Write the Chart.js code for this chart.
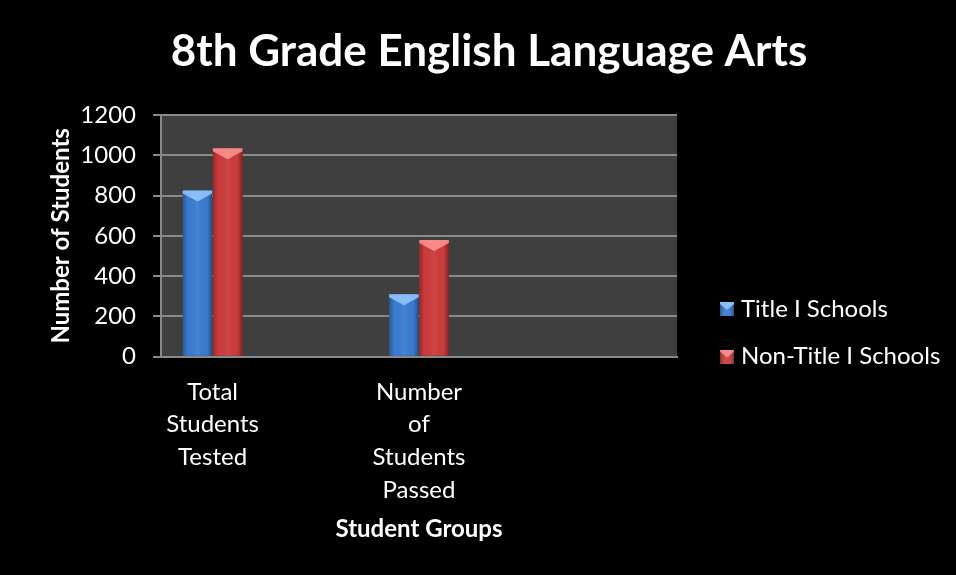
<!DOCTYPE html>
<html>
<head>
<meta charset="utf-8">
<script src="https://cdn.jsdelivr.net/npm/chart.js@4.4.1/dist/chart.umd.min.js"></script>
<style>
  html, body { margin: 0; padding: 0; background: #000; }
  #wrap { width: 956px; height: 575px; }
</style>
</head>
<body>
<div id="wrap"><canvas id="chart" width="956" height="575"></canvas></div>
<script>
// Chart content
const chartTitle = '8th Grade English Language Arts';
const xAxisTitle = 'Student Groups';
const yAxisTitle = 'Number of Students';
const categories = [['Total', 'Students', 'Tested'], '', ['Number', 'of', 'Students', 'Passed'], '', ''];
const seriesNames = ['Title I Schools', 'Non-Title I Schools'];
const titleISchools = [825, null, 310, null, null];
const nonTitleISchools = [1035, null, 580, null, null];
const yTickValues = [0, 200, 400, 600, 800, 1000, 1200];

const FONT = 'Lato, "Open Sans", sans-serif';
const seriesColors = ['#3a7bd0', '#cc3b3b'];
const bevelColors = ['rgba(150,200,255,0.85)', 'rgba(255,150,150,0.85)'];

// small bevelled swatch used as the legend marker
function makeSwatch(base, light) {
  const s = 14;
  const c = document.createElement('canvas');
  c.width = s; c.height = s;
  const g = c.getContext('2d');
  g.fillStyle = base;
  g.fillRect(0, 0, s, s);
  const sh = g.createLinearGradient(0, 0, s, 0);
  sh.addColorStop(0, 'rgba(0,0,0,0.3)');
  sh.addColorStop(0.5, 'rgba(255,255,255,0.05)');
  sh.addColorStop(1, 'rgba(0,0,0,0.35)');
  g.fillStyle = sh;
  g.fillRect(0, 0, s, s);
  g.fillStyle = light;
  g.beginPath();
  g.moveTo(0, 0); g.lineTo(s, 0); g.lineTo(s, 2); g.lineTo(s / 2, 8); g.lineTo(0, 2);
  g.closePath();
  g.fill();
  return c;
}
const swatches = seriesColors.map((c, i) => makeSwatch(c, bevelColors[i]));

// grey plotting area behind the grid
const plotBackground = {
  id: 'plotBackground',
  beforeDraw(chart) {
    const { ctx, chartArea: a } = chart;
    ctx.save();
    ctx.fillStyle = '#3f3f3f';
    ctx.fillRect(a.left, a.top, a.right - a.left, a.bottom - a.top);
    ctx.restore();
  }
};

// side shading and angled top bevel on each drawn bar
const barBevel = {
  id: 'barBevel',
  afterDatasetsDraw(chart) {
    const ctx = chart.ctx;
    chart.data.datasets.forEach((ds, di) => {
      const meta = chart.getDatasetMeta(di);
      meta.data.forEach((el, i) => {
        if (ds.data[i] == null) return;
        const { x, y, base, width } = el.getProps(['x', 'y', 'base', 'width'], true);
        const l = x - width / 2, r = x + width / 2;
        ctx.save();
        const g = ctx.createLinearGradient(l, 0, r, 0);
        g.addColorStop(0, 'rgba(0,0,0,0.28)');
        g.addColorStop(0.18, 'rgba(0,0,0,0)');
        g.addColorStop(0.5, 'rgba(255,255,255,0.06)');
        g.addColorStop(0.82, 'rgba(0,0,0,0)');
        g.addColorStop(1, 'rgba(0,0,0,0.38)');
        ctx.fillStyle = g;
        ctx.fillRect(l, y, width, base - y);
        ctx.fillStyle = bevelColors[di];
        ctx.beginPath();
        ctx.moveTo(l, y); ctx.lineTo(r, y); ctx.lineTo(r, y + 3);
        ctx.lineTo(x, y + 11); ctx.lineTo(l, y + 3);
        ctx.closePath();
        ctx.fill();
        ctx.restore();
      });
    });
  }
};

// legend sits in the right-hand margin, items stacked from a fixed top
const legendPlacement = {
  id: 'legendPlacement',
  beforeLayout(chart) {
    const lg = chart.legend;
    if (lg && !lg._fixedFit) {
      const fit = lg.fit.bind(lg);
      lg.fit = function () { fit(); this.width = 279; };
      lg._fixedFit = true;
    }
  },
  afterLayout(chart) {
    const lg = chart.legend;
    lg.left = 701.5;
    lg.right = 956;
    lg.top = 273.5;
    lg.bottom = 575;
    const tb = chart.titleBlock;
    if (tb) { tb.left += 11; tb.right += 11; }
  }
};

new Chart(document.getElementById('chart'), {
  type: 'bar',
  data: {
    labels: categories,
    datasets: [
      { label: seriesNames[0], data: titleISchools, backgroundColor: seriesColors[0] },
      { label: seriesNames[1], data: nonTitleISchools, backgroundColor: seriesColors[1] }
    ]
  },
  options: {
    responsive: false,
    animation: false,
    layout: { padding: 0 },
    datasets: { bar: { categoryPercentage: 0.585, barPercentage: 0.98, borderWidth: 0 } },
    plugins: {
      tooltip: { enabled: false },
      title: {
        display: true,
        text: chartTitle,
        color: '#ffffff',
        font: { family: FONT, size: 44, weight: 'bold', lineHeight: 1.2 },
        padding: { top: 25.6, bottom: 36.6 }
      },
      legend: {
        display: true,
        position: 'right',
        align: 'start',
        fullSize: false,
        labels: {
          color: '#ffffff',
          font: { family: FONT, size: 24 },
          usePointStyle: true,
          pointStyleWidth: 4,
          padding: 23.5,
          generateLabels(chart) {
            return chart.data.datasets.map((ds, i) => ({
              text: ds.label,
              fillStyle: seriesColors[i],
              strokeStyle: seriesColors[i],
              lineWidth: 0,
              pointStyle: swatches[i],
              hidden: false,
              datasetIndex: i,
              fontColor: '#ffffff'
            }));
          }
        }
      }
    },
    scales: {
      x: {
        type: 'category',
        offset: true,
        grid: { display: false, drawTicks: false },
        border: { display: true, color: '#8a8a8a', width: 2 },
        ticks: {
          color: '#ffffff',
          font: { family: FONT, size: 24, lineHeight: 1.36 },
          padding: 19,
          maxRotation: 0,
          autoSkip: false
        },
        title: {
          display: true,
          text: xAxisTitle,
          color: '#ffffff',
          font: { family: FONT, size: 24, weight: 'bold', lineHeight: 1.2 },
          padding: { top: 0, bottom: 31.6 }
        },
        afterFit(scale) { scale.height = 218.3; }
      },
      y: {
        min: 0,
        max: 1200,
        afterBuildTicks(scale) { scale.ticks = yTickValues.map(v => ({ value: v })); },
        grid: { color: '#8a8a8a', lineWidth: 2, tickLength: 8, drawTicks: true },
        border: { display: true, color: '#8a8a8a', width: 2 },
        ticks: {
          color: '#ffffff',
          font: { family: FONT, size: 24 },
          padding: 17,
          callback: (value) => String(value)
        },
        title: {
          display: true,
          text: yAxisTitle,
          color: '#ffffff',
          font: { family: FONT, size: 24, weight: 'bold', lineHeight: 1.2 },
          padding: { top: 46.6, bottom: 0 }
        },
        afterFit(scale) { scale.width = 161; }
      }
    }
  },
  plugins: [plotBackground, barBevel, legendPlacement]
});
</script>
</body>
</html>
